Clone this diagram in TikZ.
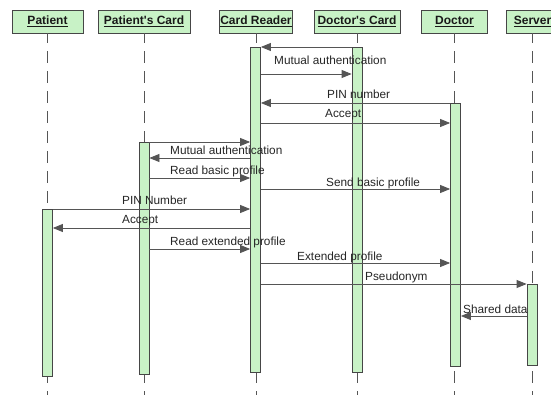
\documentclass[tikz,border=0pt]{standalone}
\usepackage{fontspec}
\setmainfont{Liberation Sans}
\usetikzlibrary{arrows.meta}
\definecolor{boxgreen}{RGB}{200,242,198}
\definecolor{edgegray}{RGB}{70,70,70}
\definecolor{wiregray}{RGB}{85,85,85}
\tikzset{
  head/.style={draw=edgegray, fill=boxgreen, minimum height=23, inner sep=0, line width=0.8,
    font=\fontsize{12}{14}\selectfont\bfseries, text=black!90},
  actbar/.style={draw=edgegray, fill=boxgreen, minimum width=10, inner sep=0, line width=0.8, anchor=north},
  life/.style={draw=wiregray, line width=0.9, dash pattern=on 12 off 8, dash phase=2},
  msg/.style={draw=wiregray, line width=0.8, -{Triangle[length=10,width=8]}},
  lbl/.style={anchor=base west, inner sep=0, font=\fontsize{11.8}{14}\selectfont, text=black!85}
}
\begin{document}
\begin{tikzpicture}[x=1pt,y=-1pt]
\useasboundingbox (0,0) rectangle (551,395);
\clip (0,0) rectangle (551,395);
\fill[white] (0,0) rectangle (551,395);
% headers
\node[head, minimum width=71] (hpa) at (47.5,21.5) {\underline{Patient}};
\node[head, minimum width=92] (hpc) at (144,21.5) {\underline{Patient\textquotesingle s Card}};
\node[head, minimum width=73] (hcr) at (256,21.5) {\underline{Card Reader}};
\node[head, minimum width=86] (hdc) at (357,21.5) {\underline{Doctor\textquotesingle s Card}};
\node[head, minimum width=66] (hdo) at (454.5,21.5) {\underline{Doctor}};
\node[head, minimum width=52] (hsv) at (532.5,21.5) {\underline{Server}};
% lifelines
\foreach \h in {hpa,hpc,hcr,hdc,hdo,hsv}{
  \draw[life] (\h.south) -- (\h.south |- 0,395);
}
% activation bars
\node[actbar, minimum height=167] (pa) at (47.5,209) {};
\node[actbar, minimum height=232] (pc) at (144,142) {};
\node[actbar, minimum height=325] (cr) at (255.5,47) {};
\node[actbar, minimum height=325] (dc) at (357,47) {};
\node[actbar, minimum height=263] (do) at (455.5,103) {};
\node[actbar, minimum height=81] (sv) at (532,284) {};
% messages
\draw[msg] (dc.west |- 0,47) -- (cr.east |- 0,47);
\draw[msg] (cr.east |- 0,74) -- (dc.west |- 0,74);
\draw[msg] (do.west |- 0,103) -- (cr.east |- 0,103);
\draw[msg] (cr.east |- 0,123) -- (do.west |- 0,123);
\draw[msg] (pc.east |- 0,142) -- (cr.west |- 0,142);
\draw[msg] (cr.west |- 0,158) -- (pc.east |- 0,158);
\draw[msg] (pc.east |- 0,178) -- (cr.west |- 0,178);
\draw[msg] (cr.east |- 0,189) -- (do.west |- 0,189);
\draw[msg] (pa.east |- 0,209) -- (cr.west |- 0,209);
\draw[msg] (cr.west |- 0,228) -- (pa.east |- 0,228);
\draw[msg] (pc.east |- 0,249) -- (cr.west |- 0,249);
\draw[msg] (cr.east |- 0,263) -- (do.west |- 0,263);
\draw[msg] (cr.east |- 0,284) -- (sv.west |- 0,284);
\draw[msg] (sv.west |- 0,316) -- (do.east |- 0,316);
% labels
\node[lbl] (l1) at (274,65) {Mutual authentication};
\node[lbl] (l2) at (327,99) {PIN number};
\node[lbl] (l3) at (325,118) {Accept};
\node[lbl] (l4) at (170,155) {Mutual authentication};
\node[lbl] (l5) at (170,175) {Read basic profile};
\node[lbl] (l6) at (326,187) {Send basic profile};
\node[lbl] (l7) at (122,205) {PIN Number};
\node[lbl] (l8) at (122,224) {Accept};
\node[lbl] (l9) at (170,246) {Read extended profile};
\node[lbl] (l10) at (297,260) {Extended profile};
\node[lbl] (l11) at (365,280) {Pseudonym};
\node[lbl] (l12) at (463,313) {Shared data};
\end{tikzpicture}
\end{document}
